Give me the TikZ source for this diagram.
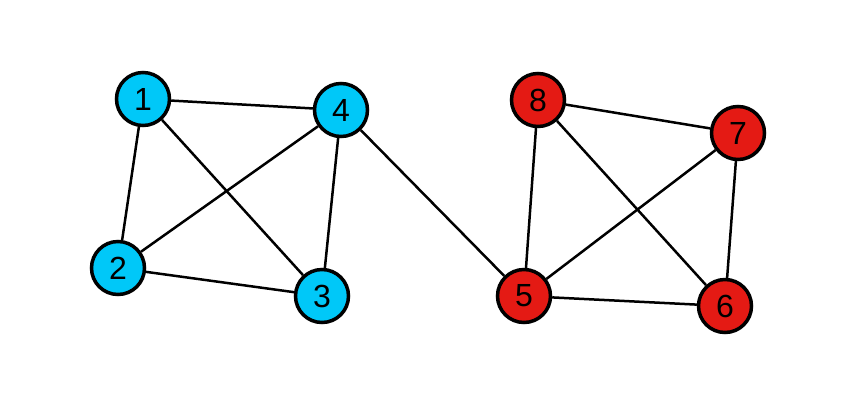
\documentclass[tikz,border=0pt]{standalone}
\usepackage{fontspec}
\setmainfont{Liberation Sans}
\definecolor{bluenode}{RGB}{0,200,248}
\definecolor{rednode}{RGB}{228,26,20}
\tikzset{
  vtx/.style={circle, draw=black, line width=3.5pt, minimum size=53pt, inner sep=0pt,
    font=\fontsize{32}{32}\selectfont},
  bluev/.style={vtx, fill=bluenode},
  redv/.style={vtx, fill=rednode},
  edge/.style={line width=2.5pt, draw=black}
}
\begin{document}
\begin{tikzpicture}[x=1pt,y=-1pt]
\useasboundingbox (0,0) rectangle (848,400);
\node[bluev] (n1) at (143,99) {1};
\node[bluev] (n4) at (341,110) {4};
\node[bluev] (n2) at (118,268) {2};
\node[bluev] (n3) at (322,296) {3};
\node[redv] (n8) at (538,100) {8};
\node[redv] (n7) at (738,133) {7};
\node[redv] (n5) at (524,296) {5};
\node[redv] (n6) at (725,306) {6};
\draw[edge] (n1) -- (n4);
\draw[edge] (n1) -- (n2);
\draw[edge] (n1) -- (n3);
\draw[edge] (n4) -- (n2);
\draw[edge] (n4) -- (n3);
\draw[edge] (n2) -- (n3);
\draw[edge] (n4) -- (n5);
\draw[edge] (n8) -- (n7);
\draw[edge] (n8) -- (n5);
\draw[edge] (n8) -- (n6);
\draw[edge] (n7) -- (n5);
\draw[edge] (n7) -- (n6);
\draw[edge] (n5) -- (n6);
\end{tikzpicture}
\end{document}
